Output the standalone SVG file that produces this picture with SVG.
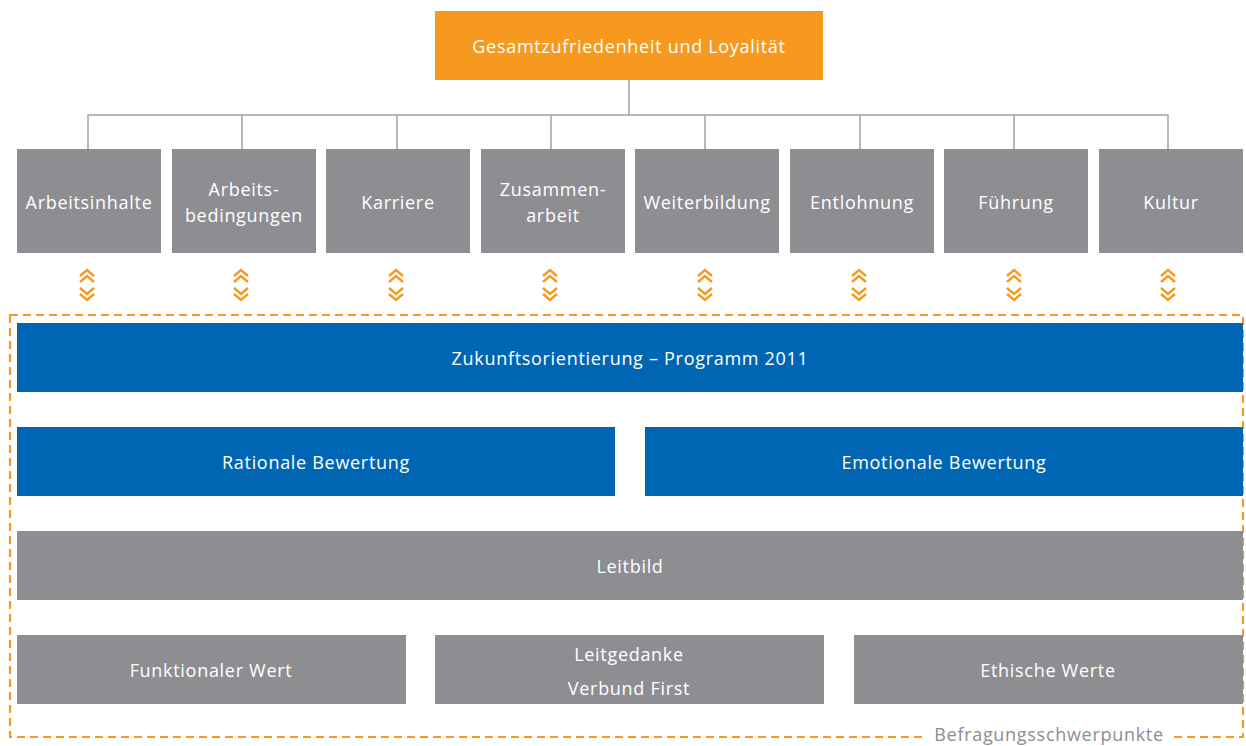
<svg xmlns="http://www.w3.org/2000/svg" width="1246" height="746" viewBox="0 0 1246 746">
<defs>
<style>
.g{fill:#8e8d92}
.b{fill:#0066b3}
.o{fill:#f7991e}
.t{font-family:"Open Sans","Liberation Sans",sans-serif;font-size:18px;letter-spacing:0.7px;fill:#ffffff;text-anchor:middle;dominant-baseline:central}
.c{fill:none;stroke:#a3a3a3;stroke-width:1.5}
.ch{fill:none;stroke:#f7991e;stroke-width:2.4}
</style>
<g id="chev">
<path class="ch" d="M-7,276 L0,270 L7,276 M-7,282 L0,276 L7,282 M-7,288 L0,294 L7,288 M-7,294 L0,300 L7,294"/>
</g>
</defs>
<rect width="1246" height="746" fill="#ffffff"/>
<g id="connectors">
<path class="c" d="M629,80 V115 M88,149 V115 H1168 V149 M242,115 V149 M397,115 V149 M551,115 V149 M705,115 V149 M860,115 V149 M1014,115 V149"/>
<use href="#chev" x="87"/>
<use href="#chev" x="241"/>
<use href="#chev" x="396"/>
<use href="#chev" x="550"/>
<use href="#chev" x="705"/>
<use href="#chev" x="859"/>
<use href="#chev" x="1014"/>
<use href="#chev" x="1168"/>
</g>
<g id="frame">
<rect x="10" y="315" width="1233" height="422" fill="none" stroke="#f7991e" stroke-width="2.2" stroke-dasharray="8,5"/>
<rect x="922" y="726" width="252" height="20" fill="#ffffff"/>
<text x="1049" y="741" style="font-family:'Open Sans','Liberation Sans',sans-serif;font-size:18px;letter-spacing:0.7px;fill:#8e8d92;text-anchor:middle">Befragungsschwerpunkte</text>
</g>
<g id="top"><rect class="o" x="435" y="11" width="388" height="69"/><text class="t" x="629" y="46">Gesamtzufriedenheit und Loyalität</text></g>
<g id="n1"><rect class="g" x="17" y="149" width="144" height="104"/><text class="t" x="89" y="202">Arbeitsinhalte</text></g>
<g id="n2"><rect class="g" x="172" y="149" width="144" height="104"/><text class="t" x="244" y="189">Arbeits-</text><text class="t" x="244" y="215">bedingungen</text></g>
<g id="n3"><rect class="g" x="326" y="149" width="144" height="104"/><text class="t" x="398" y="202">Karriere</text></g>
<g id="n4"><rect class="g" x="481" y="149" width="144" height="104"/><text class="t" x="553" y="189">Zusammen-</text><text class="t" x="553" y="215">arbeit</text></g>
<g id="n5"><rect class="g" x="635" y="149" width="144" height="104"/><text class="t" x="707" y="202">Weiterbildung</text></g>
<g id="n6"><rect class="g" x="790" y="149" width="144" height="104"/><text class="t" x="862" y="202">Entlohnung</text></g>
<g id="n7"><rect class="g" x="944" y="149" width="144" height="104"/><text class="t" x="1016" y="202">Führung</text></g>
<g id="n8"><rect class="g" x="1099" y="149" width="144" height="104"/><text class="t" x="1171" y="202">Kultur</text></g>
<g id="zukunft"><rect class="b" x="17" y="323" width="1226" height="69"/><text class="t" x="630" y="358">Zukunftsorientierung – Programm 2011</text></g>
<g id="rational"><rect class="b" x="17" y="427" width="598" height="69"/><text class="t" x="316" y="462">Rationale Bewertung</text></g>
<g id="emotional"><rect class="b" x="645" y="427" width="598" height="69"/><text class="t" x="944" y="462">Emotionale Bewertung</text></g>
<g id="leitbild"><rect class="g" x="17" y="531" width="1226" height="69"/><text class="t" x="630" y="566">Leitbild</text></g>
<g id="funktional"><rect class="g" x="17" y="635" width="389" height="69"/><text class="t" x="211" y="670">Funktionaler Wert</text></g>
<g id="leitgedanke"><rect class="g" x="435" y="635" width="389" height="69"/><text class="t" x="629" y="654">Leitgedanke</text><text class="t" x="629" y="688">Verbund First</text></g>
<g id="ethisch"><rect class="g" x="854" y="635" width="389" height="69"/><text class="t" x="1048" y="670">Ethische Werte</text></g>
</svg>
